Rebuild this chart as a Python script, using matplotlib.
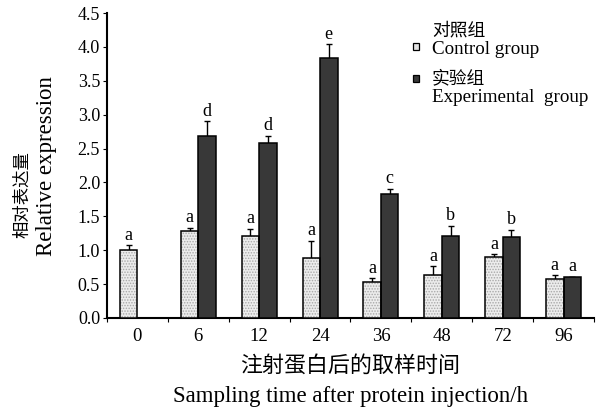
import numpy as np
import matplotlib
matplotlib.use("Agg")
import matplotlib.pyplot as plt
from matplotlib.patches import Rectangle

plt.rcParams['font.family'] = ['Liberation Serif', 'Noto Sans CJK SC', 'DejaVu Sans']
plt.rcParams['hatch.linewidth'] = 0.7

# data
times = ['0', '6', '12', '24', '36', '48', '72', '96']
control = [1.00, 1.28, 1.21, 0.89, 0.53, 0.64, 0.90, 0.58]
control_err = [0.07, 0.05, 0.11, 0.25, 0.06, 0.12, 0.04, 0.05]
control_sig = ['a', 'a', 'a', 'a', 'a', 'a', 'a', 'a']
exper = [np.nan, 2.69, 2.58, 3.84, 1.83, 1.21, 1.19, 0.61]
exper_err = [np.nan, 0.21, 0.11, 0.20, 0.08, 0.15, 0.11, 0.0]
exper_sig = ['', 'd', 'd', 'e', 'c', 'b', 'b', 'a']
yticks = [0.0, 0.5, 1.0, 1.5, 2.0, 2.5, 3.0, 3.5, 4.0, 4.5]

x = np.arange(len(times))
w = 0.287

fig = plt.figure(figsize=(6.02, 4.12), dpi=100)
ax = fig.add_axes([0.1777, 0.2282, 0.809, 0.7402])

# stippled fill in grey, then black outline on top
ax.bar(x - w/2, control, w, color='#ececec', edgecolor='#a8a8a8', linewidth=0,
       hatch='......', zorder=3)
ax.bar(x - w/2, control, w, fill=False, edgecolor='black', linewidth=1.1, zorder=4)
ax.bar(x + w/2, exper, w, color='#383838', edgecolor='black', linewidth=1.1, zorder=3)
# error bars sit behind the bars so only the upper half shows
ax.errorbar(x - w/2, control, yerr=control_err, fmt='none', ecolor='black',
            elinewidth=1.0, capsize=2.5, capthick=1.0, zorder=2)
ax.errorbar(x + w/2, exper, yerr=exper_err, fmt='none', ecolor='black',
            elinewidth=1.0, capsize=2.5, capthick=1.0, zorder=2)

for i in range(len(times)):
    ax.annotate(control_sig[i], (x[i] - w/2, control[i] + control_err[i]),
                xytext=(0, 1), textcoords='offset points',
                ha='center', va='bottom', fontsize=13)
    if exper_sig[i]:
        ax.annotate(exper_sig[i], (x[i] + w/2, exper[i] + exper_err[i]),
                    xytext=(0, 1), textcoords='offset points',
                    ha='center', va='bottom', fontsize=13)

ax.set_xlim(-0.5, 7.5)
ax.set_ylim(0, 4.5)
ax.set_yticks(yticks)
ax.set_yticklabels(['%.1f' % v for v in yticks])
ax.set_xticks(x)
ax.set_xticklabels(times)
ax.set_xticks(np.arange(-0.5, 8, 1), minor=True)
ax.tick_params(axis='x', which='major', length=0, pad=7, labelsize=13.5)
ax.tick_params(axis='x', which='minor', length=3, width=0.8, direction='out')
ax.tick_params(axis='y', which='major', length=3, width=0.8, pad=2, labelsize=13)
for s in ['top', 'right']:
    ax.spines[s].set_visible(False)
for s in ['left', 'bottom']:
    ax.spines[s].set_linewidth(1.5)

# axis titles
fig.text(0.0377, 0.527, '相对表达量', rotation=90, ha='center', va='center', fontsize=12.5)
fig.text(0.0776, 0.597, 'Relative expression', rotation=90, ha='center', va='center', fontsize=16.5)
fig.text(0.5814, 0.110, '注射蛋白后的取样时间', ha='center', va='center', fontsize=15.8)
fig.text(0.583, 0.0243, 'Sampling time after protein injection/h', ha='center',
         va='baseline', fontsize=16.5)

# legend drawn by hand to match the staggered layout
fig.patches.append(Rectangle((413/602, 1 - 50/412), 6/602, 7/412, transform=fig.transFigure,
                             facecolor='#e4e4e4', edgecolor='black', linewidth=0.9))
fig.patches.append(Rectangle((413/602, 1 - 82/412), 6/602, 7/412, transform=fig.transFigure,
                             facecolor='#383838', edgecolor='black', linewidth=0.9))
fig.text(432/602, 1 - 31/412, '对照组', ha='left', va='center', fontsize=12.8)
fig.text(432/602, 1 - 50/412, 'Control group', ha='left', va='center', fontsize=13.7)
fig.text(432/602, 1 - 79/412, '实验组', ha='left', va='center', fontsize=12.8)
fig.text(432/602, 1 - 98/412, 'Experimental  group', ha='left', va='center', fontsize=13.7)

fig.savefig('out.png', dpi=100)
